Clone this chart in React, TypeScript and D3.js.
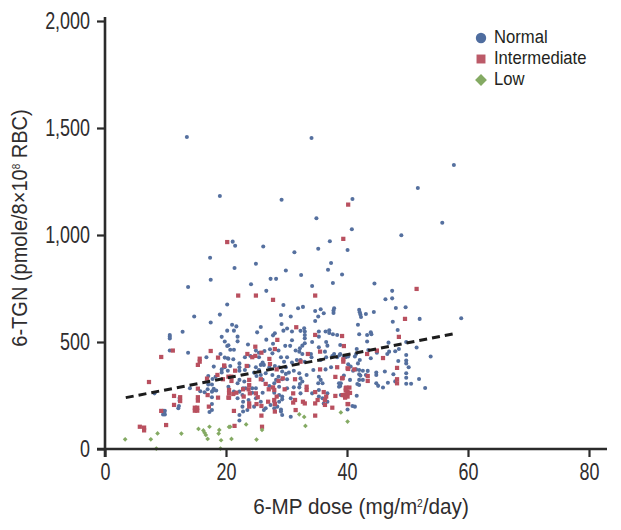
import * as d3 from "d3";
import { useEffect, useRef } from "react";

const width = 621;
const height = 530;

const xTicks = [0, 20, 40, 60, 80];
const yTicks = [0, 500, 1000, 1500, 2000];
const legendLabels = ["Normal", "Intermediate", "Low"];

const trendDose = [3.4, 57.6];
const trendTgn = [240, 541];

// doses below were read with a slightly wide ruler (6.11 px per unit, the axis has 6.05)
const doseRuler = 6.11 / 6.05;

// [dose, 6-TGN]
const normalPoints: number[][] = [
  [13.4,1458],[18.8,1182],[28.9,1165],[34.6,1078],[33.8,1453],[40.5,1168],[40.4,1027],[57.1,1327],[51.2,1220],[55.2,1057],
  [20.9,969],[21.3,950],[25.9,946],[31,919],[17.2,894],[21.2,846],[24.7,866],[29.6,834],[32.1,813],[17.3,791],[27.1,795],[28,795],[23.9,770],[13.6,757],
  [36.8,971],[34.9,936],[39.7,930],[48.5,999],[37,869],[36.5,838],[38.8,815],[37.3,776],[44.1,773],[33.9,762],
  [14.6,619],[20,675],[18.8,628],[17.3,591],[12.7,548],[10.6,533],[10.6,525],[10.6,516],[20,553],[19.1,524],[19.6,502],[20,481],[10.6,460],[13.6,450],
  [18.9,444],[16.6,429],[19.6,427],[20.1,424],[17.8,385],[19.1,372],[19.1,358],[20.1,366],[16.9,341],[18.1,338],[17.6,327],[20.2,291],[13.9,284],[16.9,301],[17.5,301],[16.8,279],[17.8,281],[18.2,273],[17.5,268],[17.7,273],[15.6,270],[16.3,265],[8.1,260],[12.2,238],[12.2,226],[17.5,242],[12,190],[17.5,210],[12.1,201],[17.5,182],[17.1,173],[9.5,179],[9.8,179],[9.5,161],[9.8,161],[9.7,170],
  [26.4,739],[29.2,673],[32.4,664],[31.6,658],[37.5,658],[37.4,647],[37.4,636],[34.4,645],[35.3,653],[35.8,634],[28.8,626],[30.4,619],[34.9,619],[34.4,598],[28.9,584],[20.8,581],[21.5,573],[25.5,570],[29.8,563],[29.2,553],[21.1,553],[24.9,545],[30.6,549],[32.6,564],[32.7,549],[32.7,533],[32,552],[35,549],[36.1,549],[36.7,555],[36.7,542],[37.3,536],[38,533],[27.8,541],[27.5,531],[21.7,525],[21.7,503],[26.4,511],[30.6,508],[32.7,517],[33.9,500],[35,525],[36.2,500],[36.4,483],[20.2,485],[23.4,488],[27.5,492],[29.5,482],[30.3,482],[32.7,494],[32.3,483],[31.9,471],[35,475],[20.5,464],[21.1,464],[24.7,460],[26.1,458],[27,466],[28.4,460],[31.2,460],[31.8,455],[32.3,444],[33.7,444],[36,455],[37.5,444],[38.4,439],[25.2,450],[27.4,447],
  [28.8,429],[29.3,408],[29.8,429],[22.9,429],[23.8,435],[20.2,422],[21,419],[22,400],[22,382],[22,366],[25.2,429],[25.8,404],[25.5,393],[26,393],[30.6,404],[31.4,416],[32,416],[32.7,408],[33.8,429],[35.3,416],[36.2,429],[37.2,435],[38,429],[39.4,429],[19.6,382],[20.5,388],[23.5,388],[24.7,382],[26.9,382],[27.8,388],[28.5,382],[29.6,382],[25.2,369],[25.5,346],[30.1,357],[30.9,366],[31.8,354],[34.1,369],[36.1,372],[37,382],[22.9,369],[24.4,357],[26.3,354],[27.4,346],[29,362],[29.6,351],[28.4,338],[28,323],[29,326],[29.8,326],[32,330],[32.3,315],[31.9,304],[33,346],[35,338],[35.3,323],[34.9,307],[35.6,307],[38.6,307],[38.3,291],[22,323],[25.8,323],[24.8,341],[21.7,307],[22.8,315],[26.9,294],[27.7,307],[28.5,291],[29.8,284],[30.9,288],[31.8,288],[24.7,284],[22.6,284],[23,284],[24.1,284],
  [21.1,268],[22,268],[22.5,252],[24.1,263],[25.8,263],[27.7,263],[28.5,252],[29,245],[32,260],[33.9,260],[35,276],[36.4,260],[35.6,237],[35.8,213],[38.6,252],[21.7,237],[22.6,221],[23.5,229],[24.7,237],[25.5,221],[27.7,221],[28.5,221],[29,232],[30.4,237],[35,245],[36.4,221],[22.5,198],[22.6,175],[22,159],[23.3,182],[24.4,198],[26.3,190],[27.1,206],[27.7,190],[28.2,198],[28.8,185],[29,159],[28.8,175],[30.4,151],[22,133],[26,182],[39.7,185],
  [47,739],[45.9,700],[47,704],[47.6,659],[49.2,662],[41.6,650],[41.7,639],[41.8,628],[41.9,617],[42.7,631],[44,640],[41.4,581],[47.1,595],[51.5,608],[58.3,611],[47.9,556],[41.6,536],[42.9,533],[43.5,545],[43.6,536],[42.9,502],[38.5,486],[46.4,497],[49.3,500],[51,474],[48.1,467],[47.5,457],[46.5,455],[46.2,444],[41.2,467],[41.1,444],[43.1,463],[44.5,450],[38.5,444],[39.1,432],[39.8,432],[40.9,432],[49.3,439],[53.3,432],[43.5,424],[41.7,416],[41.4,400],[48,411],[49.3,413],[49.3,400],[49.7,382],[39.8,396],[40.2,385],[40.6,366],[41.1,372],[41.6,369],[42.2,366],[43,365],[44.4,357],[45.8,362],[44.4,346],[47.2,349],[49.3,354],[49.3,333],[51.4,327],[41.6,349],[41.8,343],[42.7,346],[39.1,343],[40.1,323],[41.6,323],[42.2,323],[41.3,304],[41.6,299],[44.4,307],[44.7,295],[45.5,287],[46.3,310],[47.5,316],[49.3,305],[50.1,305],[52.4,285],[38.3,307],[38.5,294],[41.2,249],[40.5,201],[40.9,198],
];

const intermediatePoints: number[][] = [
  [39.8,1142],[20,967],[39,982],
  [11.1,460],[9.2,430],[17.3,458],[18.5,427],[15.5,422],[15.5,408],[15.2,393],[19.5,390],[7.2,313],[16.7,329],[18.4,346],[19.3,326],[20.2,338],[15.2,282],[11.3,248],[12.3,242],[12.3,224],[11.3,206],[15.2,242],[15.2,226],[16.8,252],[18.5,240],[20.2,240],[17,198],[9.2,178],[14.7,193],[15.1,193],[14.7,179],[15.1,179],[10,112],[5.7,104],[6.4,100],[6.4,87],
  [21.8,717],[24.7,717],[27.5,697],[34.4,717],[31.3,569],[34.4,533],[28.2,510],[24.6,478],[27.8,467],[38.8,528],[39.1,481],[35.2,455],[33.2,444],[23.3,444],[24.1,429],[24.6,435],[25.6,450],[26.9,421],[27,397],[32,408],[23.2,388],[19.5,388],[21.3,366],[28.1,372],[39,408],[39,419],[38,382],[39.7,377],[35.2,372],[37.7,337],[38.8,330],[20.7,338],[20.7,318],[23.6,323],[23.6,299],[25.5,326],[26.3,304],[28.4,318],[29.1,330],[31.1,326],[33,291],[33,276],[26.8,279],[27.5,288],[27.7,276],[29.4,279],[20.3,276],[20.3,260],[21,257],[21.5,263],[22.6,279],[23.5,279],[24.7,260],[23.7,260],[25,242],[20.3,240],[22.7,245],[28.1,245],[30.8,260],[34.4,266],[35.8,266],[37.7,248],[39.4,284],[39.7,268],[39.1,252],[39.7,245],[36.2,245],[36,229],[34.8,229],[34.4,213],[32.4,221],[32.7,213],[30.8,217],[31.1,229],[27.8,210],[26.7,221],[27.7,229],[25.6,201],[24.8,210],[23.6,213],[23.6,198],[36,206],[21.1,178],[31.2,182],[37.2,193],[25.6,156],[27.8,175],[34.4,156],[21.2,108],[25.7,104],[39.7,210],
  [51,748],[49.1,608],[48.1,524],[42.9,444],[44.5,460],[45.5,425],[47.8,379],[39.8,374],[40.8,372],[38.9,332],[43,341],[43,318],[47.8,326],[47.8,307],[40,287],[39.5,287],[39.4,273],[40.1,262],[38.9,252],[39.3,240],[39.7,260],[39.8,210],
];

const lowPoints: number[][] = [
  [3.3,45],[7.5,45],[8.6,73],[12.5,72],[8.4,2],[15.3,94],[17.1,104],[16.1,87],[16.3,76],[16.5,66],[16.8,47],[18.7,89],[18.6,72],[19,41],[18.9,2],[20.3,103],
  [20.5,104],[23.1,115],[25.7,89],[20.7,47],[24.8,44],[31.8,162],[32.6,150],[32.8,108],[38.6,171],[39.7,128],
];

const fontFamily = "'Liberation Sans', sans-serif";
const ink = "#2b2b2b";
const textInk = "#2f2d2e";
const colors = ["#55709f", "#b9505f", "#84aa63"];

// the journal's face is condensed, nothing like it is installed so squeeze Liberation
const tickSqueeze = 0.78;
const xTitleSqueeze = 0.94;
const yTitleSqueeze = 0.91;
const legendSqueeze = 0.9;

export default function App() {
  const ref = useRef<SVGSVGElement>(null);

  useEffect(() => {
    const svg = d3.select(ref.current);
    svg.selectAll("*").remove();

    const x = d3.scaleLinear().domain([0, 80]).range([105, 589]);
    const y = d3.scaleLinear().domain([0, 2000]).range([449, 21]);
    const px = (d: number[]) => x(d[0] * doseRuler);

    const circle = d3.symbol().type(d3.symbolCircle);
    const square = d3.symbol().type(d3.symbolSquare);

    svg.append("g")
      .selectAll("path")
      .data(normalPoints)
      .join("path")
      .attr("d", circle.size(13)())
      .attr("transform", (d) => `translate(${px(d)},${y(d[1])})`)
      .attr("fill", colors[0]);

    svg.append("g")
      .selectAll("path")
      .data(intermediatePoints)
      .join("path")
      .attr("d", square.size(18)())
      .attr("transform", (d) => `translate(${px(d)},${y(d[1])})`)
      .attr("fill", colors[1]);

    svg.append("g")
      .selectAll("path")
      .data(lowPoints)
      .join("path")
      .attr("d", square.size(11)())
      .attr("transform", (d) => `translate(${px(d)},${y(d[1])}) rotate(45)`)
      .attr("fill", colors[2]);

    const trend = d3.line<number>()
      .x((d) => x(d * doseRuler))
      .y((_, i) => y(trendTgn[i]));

    svg.append("path")
      .attr("d", trend(trendDose))
      .attr("fill", "none")
      .attr("stroke", "#1c1c1c")
      .attr("stroke-width", 3)
      .attr("stroke-dasharray", "8 5");

    const xAxis = svg.append("g")
      .attr("transform", "translate(0,449)")
      .call(d3.axisBottom(x).tickValues(xTicks).tickSize(8).tickPadding(6.5).tickFormat(d3.format("d")));
    xAxis.select(".domain").remove();
    xAxis.append("line")
      .attr("x1", 97).attr("x2", 607)
      .attr("stroke", ink).attr("stroke-width", 2.6);

    const yAxis = svg.append("g")
      .attr("transform", "translate(105,0)")
      .call(d3.axisLeft(y).tickValues(yTicks).tickSize(8).tickPadding(7).tickFormat(d3.format(",")));
    yAxis.select(".domain").remove();
    yAxis.append("line")
      .attr("y1", 17).attr("y2", 457)
      .attr("stroke", ink).attr("stroke-width", 2.6);

    svg.selectAll(".tick line").attr("stroke", ink).attr("stroke-width", 2.2);
    svg.selectAll(".tick text")
      .attr("font-family", fontFamily)
      .attr("font-size", 23)
      .attr("fill", textInk)
      .attr("transform", `scale(${tickSqueeze},1)`);
    yAxis.selectAll(".tick text").attr("x", -15 / tickSqueeze);

    // x title with the squared metre
    const xTitle = svg.append("text")
      .attr("transform", `translate(361,514) scale(${xTitleSqueeze},1)`)
      .attr("text-anchor", "middle")
      .attr("font-family", fontFamily)
      .attr("font-size", 22)
      .attr("fill", textInk);
    xTitle.append("tspan").text("6-MP dose (mg/m");
    xTitle.append("tspan").attr("dy", -7).attr("font-size", 11).text("2");
    xTitle.append("tspan").attr("dy", 7).text("/day)");

    const yTitle = svg.append("text")
      .attr("transform", `translate(27,228) rotate(-90) scale(${yTitleSqueeze},1)`)
      .attr("text-anchor", "middle")
      .attr("font-family", fontFamily)
      .attr("font-size", 22)
      .attr("fill", textInk);
    yTitle.append("tspan").text("6-TGN (pmole/8×10");
    yTitle.append("tspan").attr("dy", -7).attr("font-size", 11).text("8");
    yTitle.append("tspan").attr("dy", 7).text(" RBC)");

    const legend = svg.append("g");
    const legendY = d3.scalePoint<string>().domain(legendLabels).range([38, 80]);
    legendLabels.forEach((label, i) => {
      const cy = legendY(label) as number;
      if (i === 0) {
        legend.append("path").attr("d", circle.size(85)())
          .attr("transform", `translate(481,${cy})`).attr("fill", "#4f6d9f");
      } else if (i === 1) {
        legend.append("path").attr("d", square.size(80)())
          .attr("transform", `translate(481,${cy})`).attr("fill", "#bc5a68");
      } else {
        legend.append("path").attr("d", square.size(70)())
          .attr("transform", `translate(481,${cy}) rotate(45)`).attr("fill", colors[2]);
      }
      legend.append("text")
        .attr("transform", `translate(494,${cy + 5}) scale(${legendSqueeze},1)`)
        .attr("font-family", fontFamily)
        .attr("font-size", 18.5)
        .attr("fill", "#231f20")
        .text(label);
    });
  }, []);

  return (
    <svg
      ref={ref}
      width={width}
      height={height}
      style={{ position: "absolute", left: 0, top: 0, background: "#fff" }}
    />
  );
}
